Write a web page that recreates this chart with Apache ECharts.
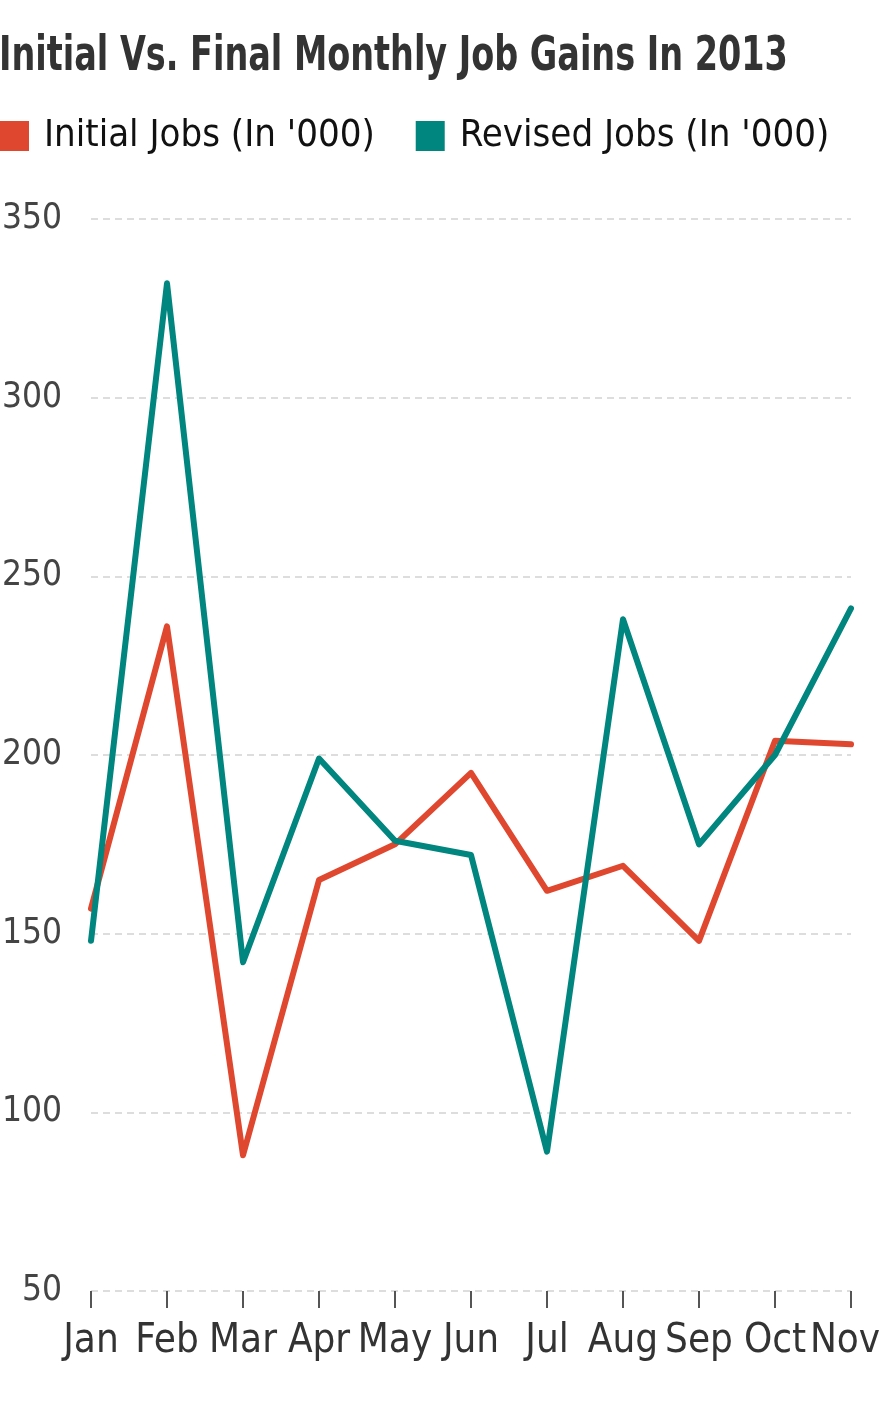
<!DOCTYPE html>
<html lang="en">
<head>
    <meta charset="UTF-8">
    <title>Initial Vs. Final Monthly Job Gains In 2013</title>
    <style>
        * {
            margin: 0;
            padding: 0;
        }

        body {
            background: #fff;
        }

        .main {
            width: 880px;
            height: 1408px;
        }
    </style>
</head>
<body>
<div id="main" class="main"></div>
<script src="https://cdn.jsdelivr.net/npm/echarts@6/dist/echarts.min.js"></script>
<script>
    var months = ['Jan', 'Feb', 'Mar', 'Apr', 'May', 'Jun', 'Jul', 'Aug', 'Sep', 'Oct', 'Nov'];
    var initialJobs = [157, 236, 88, 165, 175, 195, 162, 169, 148, 204, 203];
    var revisedJobs = [148, 332, 142, 199, 176, 172, 89, 238, 175, 200, 241];
    var yTicks = [50, 100, 150, 200, 250, 300, 350];
    var seriesNames = ["Initial Jobs (In '000)", "Revised Jobs (In '000)"];
    var seriesColors = ['#E0472F', '#00857F'];

    // no condensed web font offline -> DejaVu Condensed, headline squeezed to fit
    var narrow = '"DejaVu Sans Condensed", "Liberation Sans Narrow", sans-serif';

    var myChart = echarts.init(document.getElementById('main'), null, {renderer: 'canvas'});

    myChart.setOption({
        backgroundColor: '#fff',
        animation: false,
        graphic: [{
            type: 'text',
            left: -1,
            top: 34,
            scaleX: 0.775,
            style: {
                text: 'Initial Vs. Final Monthly Job Gains In 2013',
                font: 'bold 48px ' + narrow,
                fill: '#333'
            }
        }],
        legend: {
            left: 0,
            top: 117,
            padding: 0,
            itemWidth: 29,
            itemHeight: 30,
            itemGap: 41,
            icon: 'rect',
            textStyle: {
                fontFamily: narrow,
                fontSize: 38,
                color: '#111',
                padding: [0, 0, 0, 10]
            },
            data: seriesNames
        },
        grid: {
            left: 91,
            right: 29,
            top: 219,
            bottom: 117,
            containLabel: false,
            outerBoundsMode: 'none'
        },
        xAxis: {
            type: 'category',
            boundaryGap: false,
            data: months,
            axisLine: {show: false},
            axisTick: {
                show: true,
                alignWithLabel: true,
                interval: 0,
                length: 17,
                lineStyle: {color: '#555', width: 2}
            },
            axisLabel: {
                interval: 0,
                margin: 31,
                fontFamily: narrow,
                fontSize: 40,
                color: '#333',
                // last label sits a touch left so it isn't cut at the edge
                formatter: function (value, index) {
                    return index === months.length - 1 ? '{last|' + value + '}' : value;
                },
                rich: {
                    last: {
                        fontFamily: narrow,
                        fontSize: 40,
                        color: '#333',
                        padding: [0, 12, 0, 0]
                    }
                }
            }
        },
        yAxis: {
            type: 'value',
            min: yTicks[0],
            max: yTicks[yTicks.length - 1],
            interval: 50,
            axisLine: {show: false},
            axisTick: {show: false},
            axisLabel: {
                align: 'right',
                margin: 29,
                fontFamily: narrow,
                fontSize: 35,
                color: '#444'
            },
            splitLine: {
                lineStyle: {
                    color: '#ddd',
                    type: [7, 5],
                    width: 2
                }
            }
        },
        series: [{
            name: seriesNames[0],
            type: 'line',
            data: initialJobs,
            color: seriesColors[0],
            symbol: 'none',
            lineStyle: {width: 6, cap: 'round', join: 'round'}
        }, {
            name: seriesNames[1],
            type: 'line',
            data: revisedJobs,
            color: seriesColors[1],
            symbol: 'none',
            lineStyle: {width: 6, cap: 'round', join: 'round'}
        }]
    });
</script>
</body>
</html>
